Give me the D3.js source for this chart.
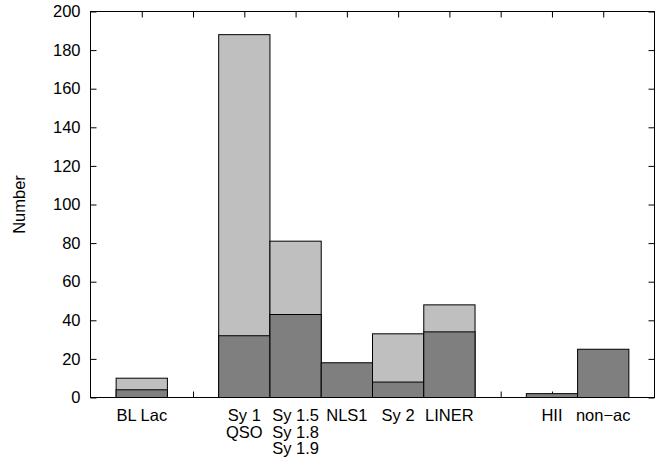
<!DOCTYPE html>
<html>
<head>
<meta charset="utf-8">
<script src="https://cdn.jsdelivr.net/npm/d3@7"></script>
<style>
body { margin: 0; background: #fff; }
svg { display: block; }
text { font-family: "Liberation Sans", Arial, sans-serif; font-size: 16.5px; fill: #000; }
</style>
</head>
<body>
<svg id="chart" width="669" height="460"></svg>
<script>
// Data
const positions = [1, 3, 4, 5, 6, 7, 9, 10];
const labels = [["BL Lac"], ["Sy 1", "QSO"], ["Sy 1.5", "Sy 1.8", "Sy 1.9"], ["NLS1"], ["Sy 2"], ["LINER"], ["HII"], ["non\u2212ac"]];
const totals = [10, 188, 81, 18, 33, 48, 2, 25];
const darkVals = [4, 32, 43, 18, 8, 34, 2, 25];
const yTicks = [0, 20, 40, 60, 80, 100, 120, 140, 160, 180, 200];
const xTicks = [1, 2, 3, 4, 5, 6, 7, 8, 9, 10];

const svg = d3.select("#chart");
const L = 90.5, R = 654.5, T = 11.5, B = 397.5;
const x = d3.scaleLinear().domain([0, 11]).range([L, R]);
const y = d3.scaleLinear().domain([0, 200]).range([B, T]);

const data = positions.map((p, i) => ({ p, label: labels[i], total: totals[i], dark: darkVals[i] }));

// ticks (drawn under bars)
const gB = svg.append("g").attr("transform", `translate(0,${B})`)
  .call(d3.axisBottom(x).tickValues(xTicks).tickSize(-6).tickFormat(""));
const gT = svg.append("g").attr("transform", `translate(0,${T})`)
  .call(d3.axisTop(x).tickValues(xTicks).tickSize(-6).tickFormat(""));
const gL = svg.append("g").attr("transform", `translate(${L},0)`)
  .call(d3.axisLeft(y).tickValues(yTicks).tickSize(-6).tickPadding(10));
const gR = svg.append("g").attr("transform", `translate(${R},0)`)
  .call(d3.axisRight(y).tickValues(yTicks).tickSize(-6).tickFormat(""));
[gB, gT, gL, gR].forEach(g => {
  g.select(".domain").remove();
  g.selectAll(".tick line").attr("stroke", "#000").attr("stroke-width", 1);
});
gL.selectAll(".tick text").style("font-family", "'Liberation Sans', Arial, sans-serif").style("font-size", "16.5px").attr("fill", "#000");

// bars
const bw = x(1) - x(0);
svg.append("g").selectAll("rect.light").data(data.filter(d => d.total > d.dark)).join("rect")
  .attr("x", d => x(d.p - 0.5)).attr("width", bw)
  .attr("y", d => y(d.total)).attr("height", d => y(0) - y(d.total))
  .attr("fill", "#bfbfbf").attr("stroke", "#000").attr("stroke-width", 1);
svg.append("g").selectAll("rect.dark").data(data).join("rect")
  .attr("x", d => x(d.p - 0.5)).attr("width", bw)
  .attr("y", d => y(d.dark)).attr("height", d => y(0) - y(d.dark))
  .attr("fill", "#7f7f7f").attr("stroke", "#000").attr("stroke-width", 1);

// border
svg.append("rect").attr("x", L).attr("y", T).attr("width", R - L).attr("height", B - T)
  .attr("fill", "none").attr("stroke", "#000").attr("stroke-width", 1);

// x labels
const lab = svg.append("g").selectAll("text").data(data).join("text")
  .attr("x", d => x(d.p)).attr("y", 421).attr("text-anchor", "middle");
lab.selectAll("tspan").data(d => d.label.map((t, i) => ({ t, i, p: d.p }))).join("tspan")
  .attr("x", d => x(d.p)).attr("y", d => 421 + d.i * 16.5).text(d => d.t);

// y label
svg.append("text").attr("transform", `translate(25,${(T + B) / 2}) rotate(-90)`)
  .attr("text-anchor", "middle").text("Number");
</script>
</body>
</html>
